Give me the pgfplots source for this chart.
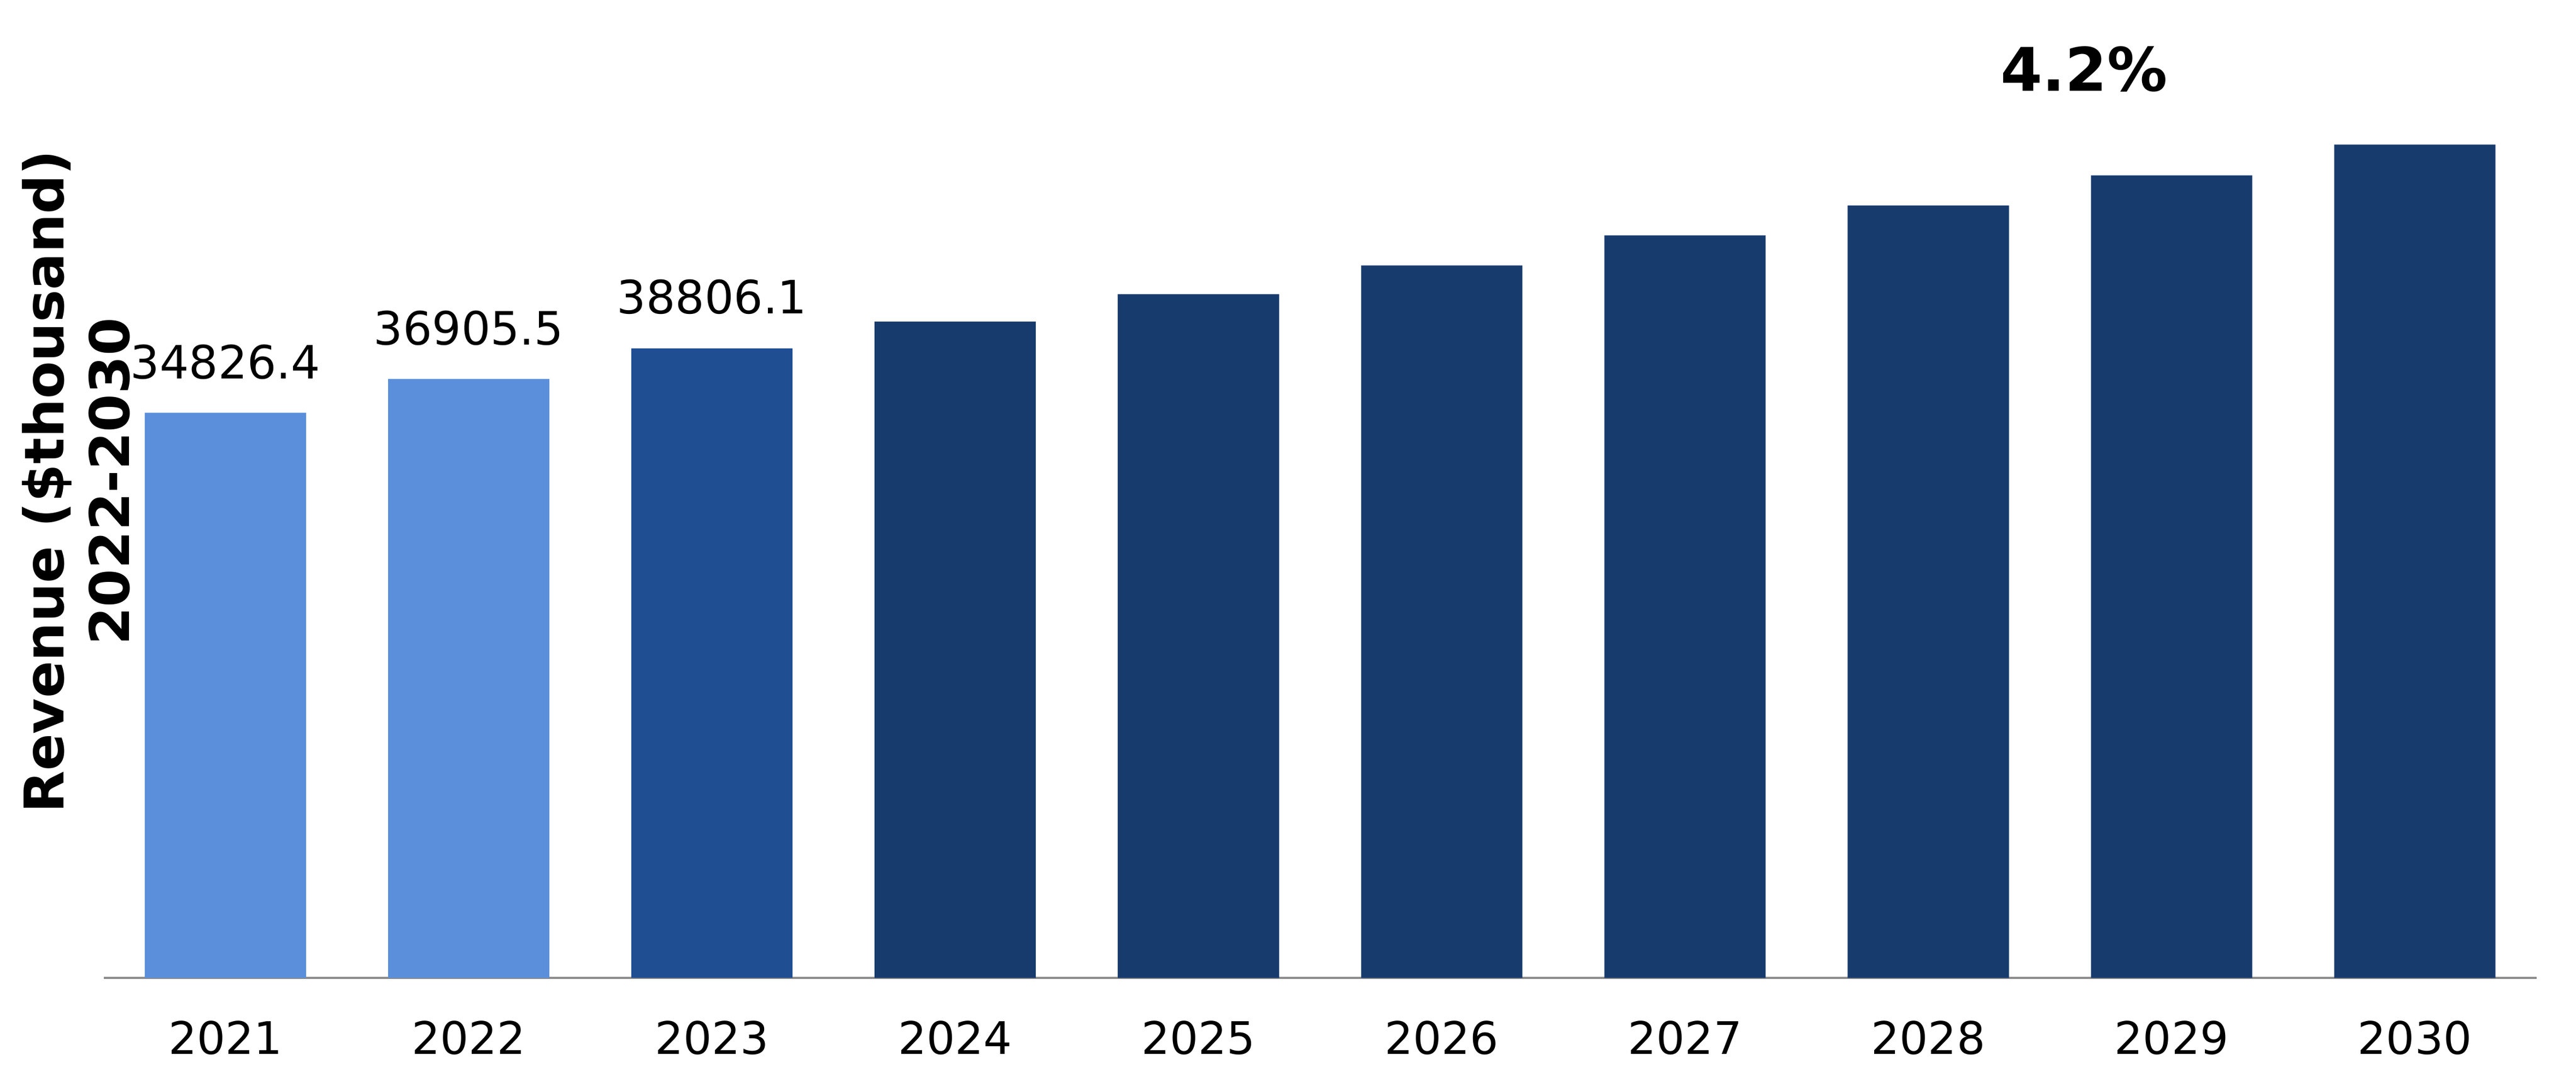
\documentclass[border=0pt]{standalone}
\usepackage{fontspec}
\setmainfont{DejaVu Sans}
\usepackage{pgfplots}
\pgfplotsset{compat=1.18}

\definecolor{lightbar}{HTML}{5B8FDB}
\definecolor{midbar}{HTML}{1F4E92}
\definecolor{darkbar}{HTML}{183B6E}
\definecolor{axisgray}{HTML}{8C8C8C}

\begin{document}
\begin{tikzpicture}
  \begin{axis}[
      scale only axis,
      width=445.0pt, height=163.2pt,
      xmin=-0.5, xmax=9.5, ymin=0, ymax=55000,
      enlargelimits=false,
      clip=false,
      axis x line*=bottom,
      axis y line=none,
      x axis line style={axisgray, line width=0.45pt},
      ytick=\empty,
      xtick={0,...,9},
      xticklabels={2021,2022,2023,2024,2025,2026,2027,2028,2029,2030},
      major tick length=0pt,
      /pgf/number format/assume math mode=true,
      xticklabel style={font=\fontsize{8.2}{10}\selectfont, anchor=north, inner sep=0pt, yshift=-7.6pt},
      ybar,
      bar width=0.663,
      nodes near coords style={font=\fontsize{8.4}{10}\selectfont, yshift=2.6pt},
    ]

    % historic years
    \addplot[ybar, bar shift=0pt, fill=lightbar, draw=none,
      nodes near coords, point meta=explicit symbolic] coordinates {
      (0,34826.4) [34826.4]
      (1,36905.5) [36905.5]
    };

    % base year
    \addplot[ybar, bar shift=0pt, fill=midbar, draw=none,
      nodes near coords, point meta=explicit symbolic] coordinates {
      (2,38806.1) [38806.1]
    };

    % forecast
    \addplot[ybar, bar shift=0pt, fill=darkbar, draw=none] coordinates {
      (3,40440)
      (4,42130)
      (5,43900)
      (6,45750)
      (7,47600)
      (8,49450)
      (9,51350)
    };

    \node[font=\bfseries\fontsize{11}{13}\selectfont] at (axis cs:7.64,55980) {4.2\%};

    \node[rotate=90, align=center, font=\bfseries\fontsize{10}{12}\selectfont]
      at ([xshift=-5.1pt]axis cs:-0.5,30580) {Revenue (\$thousand)\\2022-2030};
  \end{axis}

  \pgfresetboundingbox
  \path[use as bounding box]
    ([xshift=-18.99pt, yshift=-19.30pt]current axis.south west)
    rectangle ([xshift=7.23pt, yshift=15.59pt]current axis.north east);
\end{tikzpicture}
\end{document}
